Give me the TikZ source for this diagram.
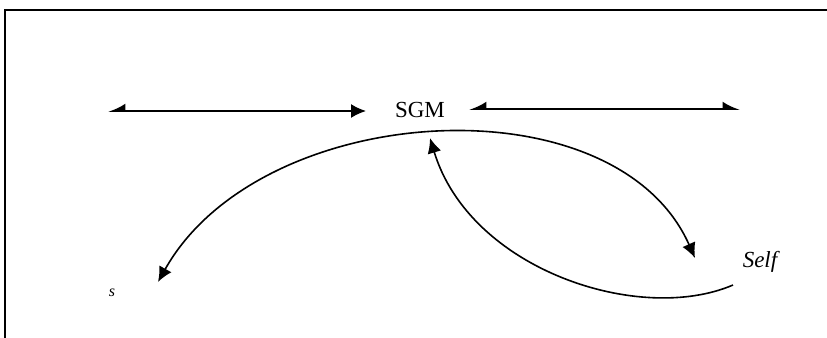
\documentclass[tikz,border=0pt]{standalone}
\usepackage{fontspec}
\setmainfont{Liberation Serif}
\usetikzlibrary{arrows.meta}

\tikzstyle{term} = [inner sep=1pt, font=\fontsize{11.5}{13}\selectfont]
\tikzstyle{smallterm} = [inner sep=1pt, font=\fontsize{8}{10}\selectfont\itshape]
\tikzstyle{arrow} = [draw, line width=0.8pt]
\tikzstyle{frame} = [draw, line width=0.6pt]
\tikzset{
  full/.tip = {Latex[length=7.5pt, width=7pt]},
  halfl/.tip = {Latex[length=7.5pt, width=7.5pt, left]},
  halfr/.tip = {Latex[length=7.5pt, width=7.5pt, right]},
}

\begin{document}
\begin{tikzpicture}[x=0.5pt, y=-0.5pt]
	\useasboundingbox (0,0) rectangle (827,338);
	\draw [frame] (5,338) -- (5,10) -- (827,10);

	\node [term] (sgm) at (420,110) {SGM};
	\node [term, font=\fontsize{11.5}{13}\selectfont\itshape] (self) at (760,262) {Self};
	\node [smallterm] (s) at (112,293) {s};

	\coordinate (left_a) at (108,111);
	\coordinate (left_b) at (366,111);
	\coordinate (right_a) at (469,109);
	\coordinate (right_b) at (740,109);
	\coordinate (s_tip) at (158,282);
	\coordinate (self_tip) at (695,258);
	\coordinate (self_end) at (733,285);
	\coordinate (sgm_tip) at (430,138);

	% straight lines
	\draw [arrow, halfr-full] (left_a) to (left_b);
	\draw [arrow, halfr-halfl] (right_a) to (right_b);

	% arcs
	\draw [arrow, full-full] (s_tip) .. controls (260,100) and (615,78) .. (self_tip);
	\draw [arrow, -full] (self_end) .. controls (640,325) and (470,270) .. (sgm_tip);
\end{tikzpicture}
\end{document}
